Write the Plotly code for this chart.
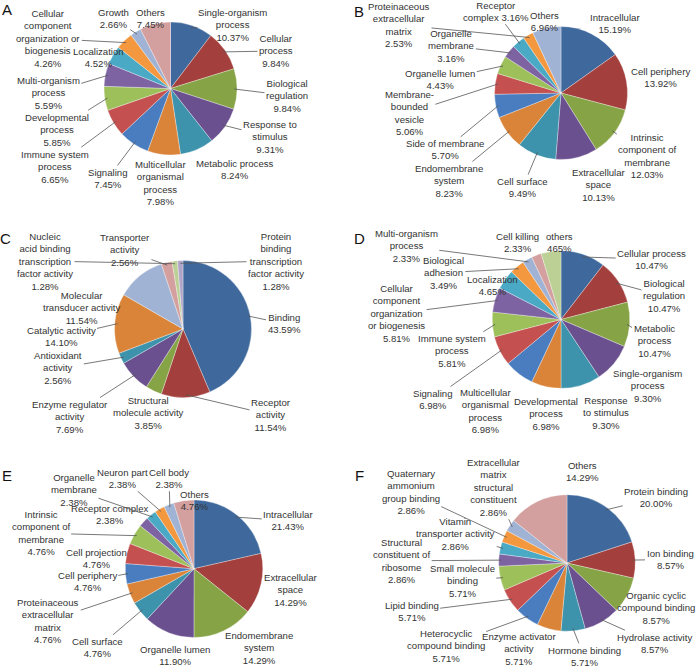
import math
import plotly.graph_objects as go

W, H = 698, 666

# ---------------- data ----------------
a_cats = ["Single-organism process", "Cellular process", "Biological regulation",
          "Response to stimulus", "Metabolic process", "Multicellular organismal process",
          "Signaling", "Immune system process", "Developmental process",
          "Multi-organism process", "Localization",
          "Cellular component organization or biogenesis", "Growth", "Others"]
a_vals = [10.37, 9.84, 9.84, 9.31, 8.24, 7.98, 7.45, 6.65, 5.85, 5.59, 4.52, 4.26, 2.66, 7.45]

b_cats = ["Intracellular", "Cell periphery", "Intrinsic component of membrane",
          "Extracellular space", "Cell surface", "Endomembrane system", "Side of membrane",
          "Membrane-bounded vesicle", "Organelle lumen", "Organelle membrane",
          "Receptor complex", "Proteinaceous extracellular matrix", "Others"]
b_vals = [15.19, 13.92, 12.03, 10.13, 9.49, 8.23, 5.70, 5.06, 4.43, 3.16, 3.16, 2.53, 6.96]

c_cats = ["Binding", "Receptor activity", "Structural molecule activity",
          "Enzyme regulator activity", "Antioxidant activity", "Catalytic activity",
          "Molecular transducer activity", "Transporter activity",
          "Nucleic acid binding transcription factor activity",
          "Protein binding transcription factor activity"]
c_vals = [43.59, 11.54, 3.85, 7.69, 2.56, 14.10, 11.54, 2.56, 1.28, 1.28]

d_cats = ["Cellular process", "Biological regulation", "Metabolic process",
          "Single-organism process", "Response to stimulus", "Developmental process",
          "Multicellular organismal process", "Signaling", "Immune system process",
          "Cellular component organization or biogenesis", "Localization",
          "Biological adhesion", "Multi-organism process", "Cell killing", "others"]
d_vals = [10.47, 10.47, 10.47, 9.30, 9.30, 6.98, 6.98, 6.98, 5.81, 5.81, 4.65, 3.49,
          2.33, 2.33, 4.65]

e_cats = ["Intracellular", "Extracellular space", "Endomembrane system", "Organelle lumen",
          "Cell surface", "Proteinaceous extracellular matrix", "Cell periphery",
          "Cell projection", "Intrinsic component of membrane", "Receptor complex",
          "Organelle membrane", "Neuron part", "Cell body", "Others"]
e_vals = [21.43, 14.29, 14.29, 11.90, 4.76, 4.76, 4.76, 4.76, 4.76, 2.38, 2.38, 2.38,
          2.38, 4.76]

f_cats = ["Protein binding", "Ion binding", "Organic cyclic compound binding",
          "Hydrolase activity", "Hormone binding", "Enzyme activator activity",
          "Heterocyclic compound binding", "Lipid binding", "Small molecule binding",
          "Structural constituent of ribosome", "Vitamin transporter activity",
          "Quaternary ammonium group binding",
          "Extracellular matrix structural constituent", "Others"]
f_vals = [20.00, 8.57, 8.57, 8.57, 5.71, 5.71, 5.71, 5.71, 5.71, 2.86, 2.86, 2.86,
          2.86, 14.29]

# ---------------- label wrapping (text layout) ----------------
a_wrap = ["Single-organism<br>process<br>{p}", "Cellular<br>process<br>{p}",
          "Biological<br>regulation<br>{p}", "Response to<br>stimulus<br>{p}",
          "Metabolic process<br>{p}", "Multicellular<br>organismal<br>process<br>{p}",
          "Signaling<br>{p}", "Immune system<br>process<br>{p}",
          "Developmental<br>process<br>{p}", "Multi-organism<br>process<br>{p}",
          "Localization<br>{p}",
          "Cellular<br>component<br>organization or<br>biogenesis<br>{p}",
          "Growth<br>{p}", "Others<br>{p}"]
b_wrap = ["Intracellular<br>{p}", "Cell periphery<br>{p}",
          "Intrinsic<br>component of<br>membrane<br>{p}", "Extracellular<br>space<br>{p}",
          "Cell surface<br>{p}", "Endomembrane<br>system<br>{p}",
          "Side of membrane<br>{p}", "Membrane-<br>bounded<br>vesicle<br>{p}",
          "Organelle lumen<br>{p}", "Organelle<br>membrane<br>{p}",
          "Receptor<br>complex {p}", "Proteinaceous<br>extracellular<br>matrix<br>{p}",
          "Others<br>{p}"]
c_wrap = ["Binding<br>{p}", "Receptor<br>activity<br>{p}",
          "Structural<br>molecule activity<br>{p}", "Enzyme regulator<br>activity<br>{p}",
          "Antioxidant<br>activity<br>{p}", "Catalytic activity<br>{p}",
          "Molecular<br>transducer activity<br>{p}", "Transporter<br>activity<br>{p}",
          "Nucleic<br>acid binding<br>transcription<br>factor activity<br>{p}",
          "Protein<br>binding<br>transcription<br>factor activity<br>{p}"]
d_wrap = ["Cellular process<br>{p}", "Biological<br>regulation<br>{p}",
          "Metabolic<br>process<br>{p}", "Single-organism<br>process<br>{p}",
          "Response<br>to stimulus<br>{p}", "Developmental<br>process<br>{p}",
          "Multicellular<br>organismal<br>process<br>{p}", "Signaling<br>{p}",
          "Immune system<br>process<br>{p}",
          "Cellular<br>component<br>organization<br>or biogenesis<br>{p}",
          "Localization<br>{p}", "Biological<br>adhesion<br>{p}",
          "Multi-organism<br>process<br>{p}", "Cell killing<br>{p}", "others<br>465%"]
e_wrap = ["Intracellular<br>{p}", "Extracellular<br>space<br>{p}",
          "Endomembrane<br>system<br>{p}", "Organelle lumen<br>{p}", "Cell surface<br>{p}",
          "Proteinaceous<br>extracellular<br>matrix<br>{p}", "Cell periphery<br>{p}",
          "Cell projection<br>{p}", "Intrinsic<br>component of<br>membrane<br>{p}",
          "Receptor complex<br>{p}", "Organelle<br>membrane<br>{p}", "Neuron part<br>{p}",
          "Cell body<br>{p}", "Others<br>{p}"]
f_wrap = ["Protein binding<br>{p}", "Ion binding<br>{p}",
          "Organic cyclic<br>compound binding<br>{p}", "Hydrolase activity<br>{p}",
          "Hormone binding<br>{p}", "Enzyme activator<br>activity<br>{p}",
          "Heterocyclic<br>compound binding<br>{p}", "Lipid binding<br>{p}",
          "Small molecule<br>binding<br>{p}", "Structural<br>constituent of<br>ribosome<br>{p}",
          "Vitamin<br>transporter activity<br>{p}",
          "Quaternary<br>ammonium<br>group binding<br>{p}",
          "Extracellular<br>matrix<br>structural<br>constituent<br>{p}", "Others<br>{p}"]

# ---------------- styles ----------------
BLUE, RED, GREEN, PURPLE = "#3F699C", "#A33F3C", "#86A446", "#6B508F"
TEAL, ORANGE, BLUE2, RED2 = "#3D92AC", "#DA843A", "#4A7DBF", "#C45150"
GREEN2, PURPLE2, TEAL2, ORANGE2 = "#9DC05A", "#7E63A2", "#4AA9C5", "#F3983F"
LBLUE, PINK, LGREEN, LAV = "#A0B3D5", "#D3A09F", "#BCD096", "#B0A5C8"
BASE12 = [BLUE, RED, GREEN, PURPLE, TEAL, ORANGE, BLUE2, RED2, GREEN2, PURPLE2, TEAL2, ORANGE2]

panels = [
    dict(letter="A", cats=a_cats, vals=a_vals, wrap=a_wrap, cx=170.5, cy=88.5, r=66.5,
         colors=BASE12 + [LBLUE, PINK], lpos=(7, 10),
         labels=[(233, 25), (276, 51), (287, 95.5), (270, 137), (235, 169),
                 (160.7, 182.5), (107.7, 178.5), (55, 166.7), (57.3, 129.7),
                 (48.3, 93.3), (98.7, 57.5), (48.3, 38.7), (113.3, 18.7), (150.7, 18.7)],
         lines=[1, 1, 1, 1, 0, 0, 1, 1, 1, 1, 0, 1, 1, 0]),
    dict(letter="B", cats=b_cats, vals=b_vals, wrap=b_wrap, cx=561, cy=93, r=66.5,
         colors=BASE12 + [LBLUE], lpos=(359, 11.7),
         labels=[(614.7, 23.3), (660.7, 77.8), (647.3, 155.8), (598.7, 185),
                 (522.7, 187.5), (448.7, 181), (445, 149.8), (409.3, 112.7),
                 (440.3, 79.5), (451.3, 46), (495.7, 11.2), (399, 24.8), (544.7, 21.2)],
         lines=[1, 0, 1, 0, 1, 1, 1, 1, 1, 1, 1, 1, 0]),
    dict(letter="C", cats=c_cats, vals=c_vals, wrap=c_wrap, cx=183, cy=329, r=68.5,
         colors=[BLUE, RED, GREEN, PURPLE, TEAL, ORANGE, LBLUE, PINK, LGREEN, LAV],
         lpos=(5, 238),
         labels=[(284, 323.7), (271, 415), (148.3, 413.3), (70, 417), (58.3, 368.3),
                 (61, 336.8), (81.7, 307.7), (125, 250.3), (45, 261), (276, 261)],
         lines=[1, 1, 0, 1, 1, 1, 0, 1, 1, 1]),
    dict(letter="D", cats=d_cats, vals=d_vals, wrap=d_wrap, cx=561, cy=319.5, r=68.8,
         colors=BASE12 + [LBLUE, PINK, LGREEN], lpos=(359, 238.7),
         labels=[(651.7, 259.2), (664, 296), (654, 341), (647.3, 386), (606.3, 412.7),
                 (545.7, 413.7), (485.7, 410.9), (432.3, 399.5), (452.3, 351.3),
                 (396.7, 313.5), (492.3, 285.3), (443.3, 272.7), (406.3, 246),
                 (517.3, 242), (559, 242)],
         lines=[1, 1, 1, 0, 0, 0, 0, 1, 1, 1, 0, 1, 1, 0, 0]),
    dict(letter="E", cats=e_cats, vals=e_vals, wrap=e_wrap, cx=194, cy=568.7, r=68.8,
         colors=BASE12 + [LBLUE, PINK], lpos=(6.7, 475.7),
         labels=[(288.3, 520.8), (291, 590), (259.3, 648), (175, 655.2), (97.7, 647.8),
                 (48.3, 621), (87.3, 581.2), (96, 558.8), (40.7, 533.2), (110, 514.7),
                 (74, 489.7), (122.7, 478.2), (169, 478.2), (194.3, 500.2)],
         lines=[1, 0, 0, 0, 1, 1, 1, 0, 1, 0, 1, 1, 1, 0]),
    dict(letter="F", cats=f_cats, vals=f_vals, wrap=f_wrap, cx=567, cy=563, r=68.3,
         colors=BASE12 + [LBLUE, PINK], lpos=(359, 475.7),
         labels=[(656.3, 497.7), (670, 559.5), (655.7, 608), (654, 643.2), (584, 656.2),
                 (519, 649), (445.7, 646.3), (411.7, 611.8), (462.3, 580.5),
                 (401.7, 560.8), (455.7, 533.6), (410.7, 492.3), (494, 487.3),
                 (582.3, 471.5)],
         lines=[1, 1, 1, 1, 1, 0, 1, 1, 1, 1, 1, 1, 1, 0]),
]

FONT = "Liberation Sans, Arial, sans-serif"
TXT = "#333333"
FS = 9.6

fig = go.Figure()
annotations = []

for p in panels:
    cx, cy, r = p["cx"], p["cy"], p["r"]
    fig.add_trace(go.Pie(
        labels=p["cats"], values=p["vals"], sort=False, direction="clockwise",
        rotation=0, textinfo="none", hoverinfo="label+value",
        marker=dict(colors=p["colors"], line=dict(color="rgba(255,255,255,0.45)", width=0.7)),
        domain=dict(x=[(cx - r) / W, (cx + r) / W], y=[1 - (cy + r) / H, 1 - (cy - r) / H]),
        showlegend=False,
    ))
    total = sum(p["vals"])
    cum = 0.0
    for i, v in enumerate(p["vals"]):
        mid = (cum + v / 2) / total
        cum += v
        th = 2 * math.pi * mid
        tx = cx + 0.96 * r * math.sin(th)
        ty = cy - 0.96 * r * math.cos(th)
        lx, ly = p["labels"][i]
        text = p["wrap"][i].format(p=f"{v:.2f}%")
        if p["lines"][i]:
            annotations.append(dict(
                x=tx / W, y=1 - ty / H, xref="paper", yref="paper",
                ax=lx - tx, ay=ly - ty, axref="pixel", ayref="pixel",
                text=text, showarrow=True, arrowhead=0, arrowwidth=0.8,
                arrowcolor="#555555", standoff=0, startstandoff=0,
                align="center", font=dict(family=FONT, size=FS, color=TXT)))
        else:
            annotations.append(dict(
                x=lx / W, y=1 - ly / H, xref="paper", yref="paper",
                xanchor="center", yanchor="middle", text=text, showarrow=False,
                align="center", font=dict(family=FONT, size=FS, color=TXT)))
    annotations.append(dict(
        x=p["lpos"][0] / W, y=1 - p["lpos"][1] / H, xref="paper", yref="paper",
        xanchor="center", yanchor="middle", text=p["letter"], showarrow=False,
        font=dict(family=FONT, size=15, color="#111111")))

fig.update_layout(
    width=W, height=H, margin=dict(l=0, r=0, t=0, b=0),
    paper_bgcolor="white", plot_bgcolor="white", showlegend=False,
    annotations=annotations,
)

fig.write_html("out.html", config={"displayModeBar": False},
               post_script="document.body.style.margin='0';document.body.style.overflow='hidden';")
